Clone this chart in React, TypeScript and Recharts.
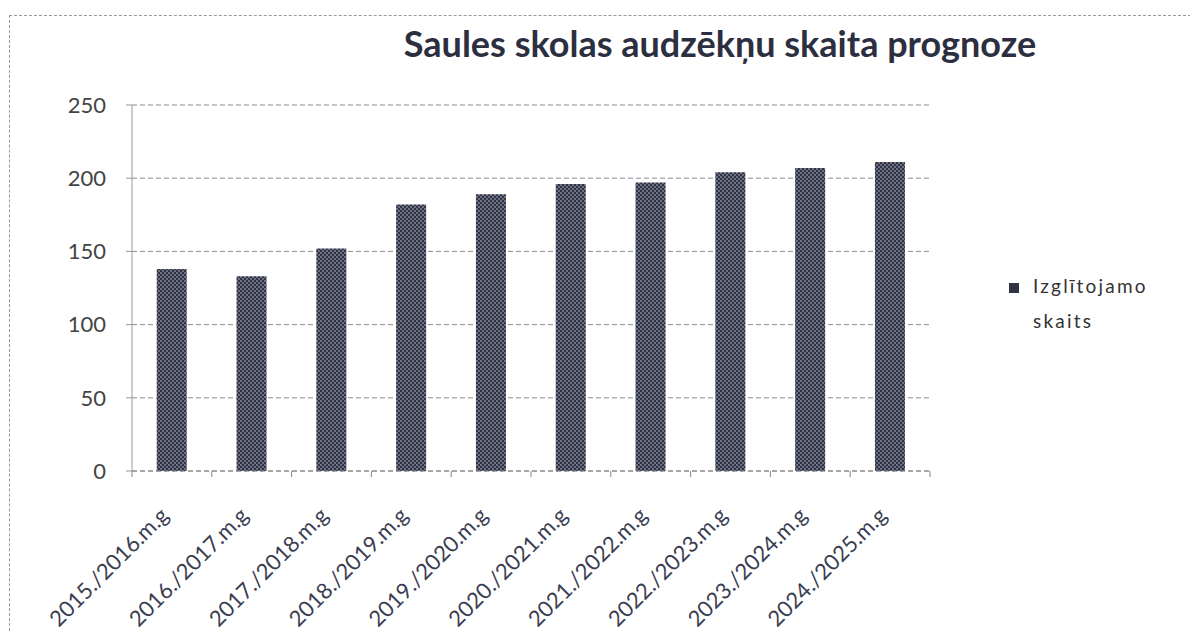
import React from 'react';
import { BarChart, Bar, XAxis, YAxis, CartesianGrid } from 'recharts';

const years = [
  '2015./2016.m.g', '2016./2017.m.g', '2017./2018.m.g', '2018./2019.m.g', '2019./2020.m.g',
  '2020./2021.m.g', '2021./2022.m.g', '2022./2023.m.g', '2023./2024.m.g', '2024./2025.m.g',
];
const students = [138, 133, 152, 182, 189, 196, 197, 204, 207, 211];
const yTicks = [0, 50, 100, 150, 200, 250];

const font = 'Lato, "Open Sans", sans-serif';

const data = years.map((name, i) => ({ name, value: students[i] }));

const XTick = (props: any) => {
  const { x, y, payload, index } = props;
  const half = payload.offset || 0;
  const last = index === years.length - 1;
  const tx = x - 2;
  const ty = y + 38;
  return (
    <g>
      <line x1={x - half} x2={x - half} y1={y - 8} y2={y - 2} stroke="#888" />
      {last && <line x1={x + half} x2={x + half} y1={y - 8} y2={y - 2} stroke="#888" />}
      <text
        x={tx}
        y={ty}
        textAnchor="end"
        fontSize={22}
        fill="#3a3d50"
        fontFamily={font}
        transform={`rotate(-45, ${tx}, ${ty})`}
      >
        {payload.value}
      </text>
    </g>
  );
};

export default function App() {
  return (
    <div style={{ position: 'relative', width: 1190, height: 625, fontFamily: font }}>
      <div
        style={{
          position: 'absolute', left: 1, top: 7, width: 1186, height: 640,
          borderTop: '1px dashed #9a9a9a', borderLeft: '1px dashed #9a9a9a',
        }}
      />
      <div
        style={{
          position: 'absolute', left: 0, width: 1424, top: 13, textAlign: 'center',
          fontSize: 36, fontWeight: 'bold', color: '#2c2f3f', whiteSpace: 'nowrap',
        }}
      >
        Saules skolas audzēkņu skaita prognoze
      </div>
      <BarChart
        width={1190}
        height={625}
        data={data}
        margin={{ top: 97, right: 268, bottom: 12, left: 64 }}
        barCategoryGap="31%"
      >
        <defs>
          <pattern id="dots" width="4" height="4" patternUnits="userSpaceOnUse">
            <rect width="4" height="4" fill="#2f3242" />
            <circle cx="1" cy="1" r="0.9" fill="#8a8fa2" />
            <circle cx="3" cy="3" r="0.9" fill="#8a8fa2" />
          </pattern>
        </defs>
        <CartesianGrid vertical={false} stroke="#8a8a95" strokeDasharray="5 3" />
        <XAxis
          dataKey="name"
          height={150}
          interval={0}
          tickLine={false}
          axisLine={{ stroke: '#888', strokeDasharray: '5 3' }}
          tick={<XTick />}
        />
        <YAxis
          width={60}
          domain={[0, 250]}
          ticks={yTicks}
          tickSize={6}
          tickMargin={20}
          tickLine={{ stroke: '#999' }}
          axisLine={{ stroke: '#999' }}
          tick={{ fontSize: 22, fill: '#444', fontFamily: font }}
        />
        <Bar dataKey="value" fill="url(#dots)" isAnimationActive={false} />
      </BarChart>
      <div
        style={{
          position: 'absolute', left: 1001, top: 260, fontSize: 19, color: '#333',
          lineHeight: '35px', display: 'flex', letterSpacing: 2.2,
        }}
      >
        <span style={{ display: 'inline-block', width: 10, height: 10, background: '#2f3242', marginTop: 15, marginRight: 14 }} />
        <span>Izglītojamo<br />skaits</span>
      </div>
    </div>
  );
}
